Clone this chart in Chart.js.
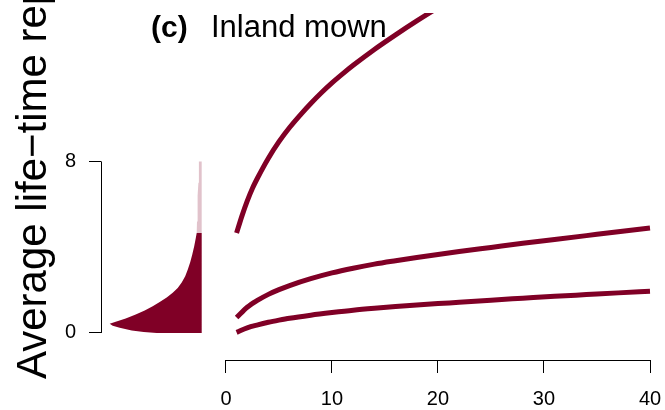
<!DOCTYPE html>
<html>
<head>
<meta charset="utf-8">
<script src="https://cdn.jsdelivr.net/npm/chart.js@4.4.1/dist/chart.umd.min.js"></script>
<style>
  html, body { margin: 0; padding: 0; background: #fff; }
  #wrap { width: 665px; height: 410px; }
</style>
</head>
<body>
<div id="wrap"><canvas id="lifeChart"></canvas></div>
<script>
// curves: years on x, average life-time reproduction on y
var xsHigh = [1, 1.5, 2, 2.5, 3, 4, 5, 6, 7, 8, 9, 10, 11, 12, 14, 16, 18, 20, 22];
var curveHigh = [4.66, 5.45, 6.15, 6.75, 7.25, 8.15, 8.92, 9.58, 10.16, 10.7, 11.2, 11.66, 12.08, 12.48, 13.22, 13.9, 14.55, 15.17, 15.75];

var xsLow = [1, 2, 3, 4, 5, 6, 8, 10, 12, 14, 16, 18, 20, 22, 25, 28, 31, 34, 37, 40];
var curveMid = [0.72, 1.2, 1.53, 1.8, 2.02, 2.21, 2.53, 2.8, 3.02, 3.21, 3.37, 3.52, 3.66, 3.8, 3.99, 4.18, 4.36, 4.54, 4.72, 4.89];
var curveLow = [0.03, 0.24, 0.38, 0.5, 0.6, 0.69, 0.83, 0.95, 1.06, 1.15, 1.23, 1.3, 1.37, 1.43, 1.53, 1.62, 1.71, 1.79, 1.87, 1.94];

// half violin on the left (outline: density, value)
var darkDensity = [0, 0.45, 0.58, 0.70, 0.82, 0.89, 0.92, 0.86, 0.76, 0.66, 0.57, 0.49, 0.42, 0.35, 0.29, 0.24, 0.20, 0.165, 0.14, 0.115, 0.095, 0.075, 0.06, 0.05, 0];
var darkValue   = [0, 0, 0.04, 0.12, 0.24, 0.34, 0.43, 0.52, 0.68, 0.86, 1.05, 1.25, 1.45, 1.65, 1.88, 2.1, 2.35, 2.65, 2.95, 3.3, 3.65, 4.04, 4.4, 4.66, 4.66];
var lightDensity = [0, 0.05, 0.047, 0.044, 0.038, 0.033, 0.029, 0.027, 0];
var lightValue   = [4.66, 4.66, 5.2, 5.9, 6.4, 7.0, 7.5, 8, 8];

var xTicks = [0, 10, 20, 30, 40];
var yTicks = [0, 8];

var wine = '#800026';
var winePale = 'rgba(128,0,38,0.24)';
var font = "'Liberation Sans', Arial, Helvetica, sans-serif";

function pts(xs, ys) {
  return xs.map(function (x, i) { return { x: x, y: ys[i] }; });
}

function curve(xs, ys) {
  return {
    data: pts(xs, ys),
    borderColor: wine,
    borderWidth: 5,
    pointRadius: 0,
    fill: false,
    cubicInterpolationMode: 'monotone',
    clip: { left: 5, top: 0, right: 5, bottom: 5 }
  };
}

function blob(ds, vs, color) {
  return {
    data: pts(ds, vs),
    xAxisID: 'xd',
    borderColor: color,
    borderWidth: 0,
    backgroundColor: color,
    pointRadius: 0,
    tension: 0,
    fill: 'shape'
  };
}

// no extra room for labels: chart area = layout padding
function noPad(s) {
  s.paddingLeft = 0; s.paddingRight = 0; s.paddingTop = 0; s.paddingBottom = 0;
}

// R style panel: short axis lines, rotated y title, panel label
var rStyle = {
  id: 'rStyle',
  beforeDatasetsDraw: function (chart) {
    var ctx = chart.ctx;
    ctx.save();
    ctx.fillStyle = '#000';
    ctx.textBaseline = 'alphabetic';
    ctx.textAlign = 'left';
    ctx.font = 'bold 30px ' + font;
    ctx.fillText('(c)', 151, 37);
    ctx.font = '31px ' + font;
    ctx.fillText('Inland mown', 211, 37);
    ctx.restore();
  },
  afterDraw: function (chart) {
    var ctx = chart.ctx, x = chart.scales.x, y = chart.scales.y, a = chart.chartArea;
    ctx.save();
    ctx.strokeStyle = '#000';
    ctx.lineWidth = 1;
    ctx.beginPath();
    ctx.moveTo(x.getPixelForValue(xTicks[0]), Math.round(a.bottom) + 0.5);
    ctx.lineTo(x.getPixelForValue(xTicks[xTicks.length - 1]), Math.round(a.bottom) + 0.5);
    ctx.moveTo(Math.round(a.left) + 0.5, y.getPixelForValue(yTicks[0]));
    ctx.lineTo(Math.round(a.left) + 0.5, y.getPixelForValue(yTicks[yTicks.length - 1]));
    ctx.stroke();

    ctx.translate(46, 379);
    ctx.rotate(-Math.PI / 2);
    ctx.fillStyle = '#000';
    ctx.font = '42px ' + font;
    ctx.textAlign = 'left';
    ctx.textBaseline = 'alphabetic';
    ctx.fillText('Average life\u2212time reproductive output', 0, 0);
    ctx.restore();
  }
};

var ctx = document.getElementById('lifeChart').getContext('2d');
var lifeChart = new Chart(ctx, {
  type: 'line',
  data: {
    datasets: [
      blob(darkDensity, darkValue, wine),
      blob(lightDensity, lightValue, winePale),
      curve(xsHigh, curveHigh),
      curve(xsLow, curveMid),
      curve(xsLow, curveLow)
    ]
  },
  options: {
    responsive: true,
    maintainAspectRatio: false,
    animation: false,
    layout: { padding: { top: 13, right: 15, bottom: 0, left: 0 } },
    plugins: {
      legend: { display: false },
      tooltip: { enabled: false },
      title: { display: false }
    },
    scales: {
      x: {
        type: 'linear',
        min: -11.79,
        max: 40,
        afterBuildTicks: function (s) { s.ticks = xTicks.map(function (v) { return { value: v }; }); },
        afterFit: function (s) { s.height = 50; noPad(s); },
        ticks: { color: '#000', font: { family: font, size: 20 }, padding: 14, maxRotation: 0 },
        grid: { drawOnChartArea: false, drawTicks: true, tickLength: 13, color: '#000', lineWidth: 1 },
        border: { display: false }
      },
      xd: {
        type: 'linear',
        display: false,
        reverse: true,
        min: -4.483,
        max: 1.007,
        afterFit: noPad
      },
      y: {
        type: 'linear',
        min: -1.26,
        max: 14.92,
        afterBuildTicks: function (s) { s.ticks = yTicks.map(function (v) { return { value: v }; }); },
        afterFit: function (s) { s.width = 101; noPad(s); },
        ticks: { color: '#000', font: { family: font, size: 20 }, padding: 13 },
        grid: { drawOnChartArea: false, drawTicks: true, tickLength: 12, color: '#000', lineWidth: 1 },
        border: { display: false }
      }
    }
  },
  plugins: [rStyle]
});
</script>
</body>
</html>
